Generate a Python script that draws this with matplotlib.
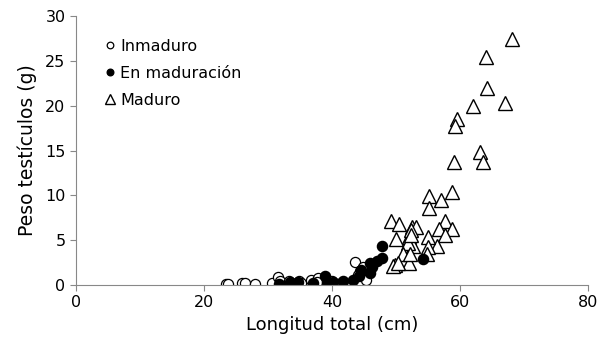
import numpy as np
import matplotlib
matplotlib.use('Agg')
import matplotlib.pyplot as plt

# Inmaduro (open circles)
inm_x = [23.5, 23.8, 25.9, 26.4, 28.0, 30.6, 31.5, 31.9, 33.3, 34.9, 35.1, 36.8, 37.9, 37.6,
         39.4, 40.0, 41.5, 43.6, 44.9, 44.4, 45.4, 44.1]
inm_y = [0.1, 0.15, 0.2, 0.2, 0.1, 0.25, 0.85, 0.4, 0.4, 0.4, 0.2, 0.5, 0.75, 0.35,
         0.2, 0.45, 0.2, 2.6, 2.0, 1.5, 0.5, 1.1]

# En maduracion (filled circles)
mad_x = [31.8, 33.5, 34.7, 37.1, 38.9, 39.2, 40.1, 41.7, 43.3, 44.3, 44.6, 45.9, 45.9,
         46.2, 47.0, 47.9, 47.9, 54.3]
mad_y = [0.1, 0.35, 0.3, 0.25, 0.95, 0.35, 0.3, 0.4, 0.5, 1.0, 1.7, 1.3, 2.5,
         2.0, 2.7, 3.0, 4.4, 2.9]

# Maduro (triangles)
tri_x = [68.1, 64.1, 64.3, 62.1, 67.1, 59.5, 59.3, 63.1, 63.6, 59.1, 58.75, 55.1, 57.0,
         55.1, 57.7, 56.8, 58.75, 57.7, 56.5, 55.0, 55.0, 54.8, 49.3, 50.5, 52.5, 53.1,
         50.0, 52.1, 52.3, 52.6, 51.9, 51.1, 52.1, 49.8, 49.5, 52.2, 52.3, 50.3]
tri_y = [27.5, 25.5, 22.0, 20.0, 20.3, 18.5, 17.8, 14.8, 13.7, 13.7, 10.4, 9.9, 9.5,
         8.6, 7.1, 6.3, 6.2, 5.6, 4.4, 5.3, 4.2, 3.4, 7.1, 6.8, 6.5, 6.5,
         5.1, 5.3, 6.1, 4.3, 4.7, 3.4, 2.4, 2.2, 2.1, 3.5, 5.6, 2.5]

plt.rcParams['font.family'] = ['DejaVu Sans']

fig = plt.figure(figsize=(5.98, 3.40), dpi=100)
ax = fig.add_axes([0.127, 0.162, 0.856, 0.79])

ax.plot(tri_x, tri_y, linestyle='none', marker='^', markersize=10,
        markerfacecolor='white', markeredgecolor='black', markeredgewidth=1.0, label='Maduro')
ax.plot(inm_x, inm_y, linestyle='none', marker='o', markersize=7.3,
        markerfacecolor='white', markeredgecolor='black', markeredgewidth=0.9, label='Inmaduro')
ax.plot(mad_x, mad_y, linestyle='none', marker='o', markersize=7.3,
        markerfacecolor='black', markeredgecolor='black', label='En maduración')

ax.set_xlim(0, 80)
ax.set_ylim(0, 30)
ax.set_xticks([0, 20, 40, 60, 80])
ax.set_yticks([0, 5, 10, 15, 20, 25, 30])
ax.set_xlabel('Longitud total (cm)', fontsize=13)
ax.set_ylabel('Peso testículos (g)', fontsize=13.5, labelpad=6)
ax.tick_params(labelsize=11.5, color='#888888', length=4)

for s in ['top', 'right']:
    ax.spines[s].set_visible(False)
for s in ['left', 'bottom']:
    ax.spines[s].set_color('#888888')

h, l = ax.get_legend_handles_labels()
order = [1, 2, 0]
leg = ax.legend([h[i] for i in order], [l[i] for i in order], loc='upper left',
                bbox_to_anchor=(0.03, 0.97), frameon=False, fontsize=11.5,
                handlelength=0.6, handletextpad=0.3, labelspacing=0.75, markerscale=0.65)

fig.savefig('out.png', dpi=100)
